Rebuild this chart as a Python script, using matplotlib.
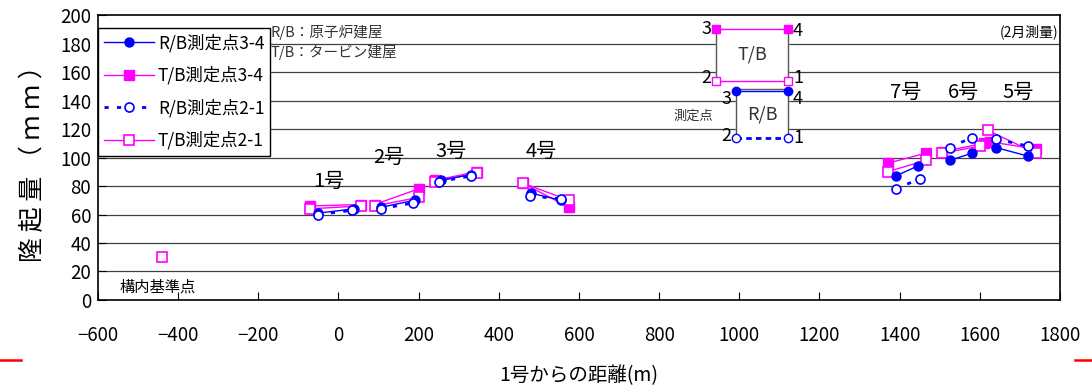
import numpy as np
import matplotlib
matplotlib.use("Agg")
import matplotlib.pyplot as plt
from matplotlib.lines import Line2D

plt.rcParams['font.family'] = ['Noto Sans CJK JP', 'DejaVu Sans']

nan = np.nan

# Distance from Unit 1 (m); each unit contributes a pair of points, NaN breaks the line
rb34_x = [-50, 40, nan, 105, 190, nan, 255, 330, nan, 480, 555, nan, 1390, 1445, nan, 1525, 1580, nan, 1640, 1720]
rb34_y = [61, 64, nan, 65, 70, nan, 84, 88, nan, 75, 70, nan, 87, 94, nan, 98, 103, nan, 107, 101]

tb34_x = [-70, 55, nan, 90, 200, nan, 240, 345, nan, 460, 575, nan, 1370, 1465, nan, 1505, 1610, nan, 1625, 1740]
tb34_y = [66, 67, nan, 67, 78, nan, 84, 90, nan, 82, 65, nan, 96, 103, nan, 104, 110, nan, 111, 106]

rb21_x = [-50, 35, nan, 105, 185, nan, 250, 330, nan, 478, 555, nan, 1390, 1450, nan, 1525, 1580, nan, 1640, 1720]
rb21_y = [60, 63, nan, 64, 68, nan, 83, 87, nan, 73, 71, nan, 78, 85, nan, 107, 114, nan, 113, 108]

tb21_x = [-440, nan, -70, 55, nan, 90, 200, nan, 240, 345, nan, 460, 575, nan, 1370, 1465, nan, 1505, 1600, nan, 1620, 1740]
tb21_y = [30, nan, 64, 66, nan, 66, 72, nan, 83, 89, nan, 82, 70, nan, 90, 98, nan, 103, 108, nan, 119, 103]

unit_labels = ['1号', '2号', '3号', '4号', '7号', '6号', '5号']
unit_label_x = [-25, 125, 280, 505, 1415, 1560, 1695]
unit_label_y = [83, 100, 104, 104, 146, 146, 146]

x_ticks = list(range(-600, 1801, 200))
y_ticks = list(range(0, 201, 20))

# Schematic of measurement points on each building
tb_box_x = [942, 1122]
tb_box_y = [154, 190]
rb_box_x = [992, 1122]
rb_box_y = [114, 147]

BLUE = '#0000FF'
MAG = '#FF00FF'

fig = plt.figure(figsize=(10.92, 3.89), dpi=100)
ax = fig.add_axes([0.0897, 0.2288, 0.881, 0.7326])
ax.set_xlim(-600, 1800)
ax.set_ylim(0, 200)
ax.set_xticks(x_ticks)
ax.set_yticks(y_ticks)
ax.tick_params(direction='in', length=6, width=0.8, labelsize=13.5)
ax.tick_params(axis='x', pad=18)
ax.tick_params(axis='y', pad=5)
for y in y_ticks[1:-1]:
    ax.axhline(y, color='#404040', lw=0.9, zorder=0)
for s in ax.spines.values():
    s.set_linewidth(1.2)

ms = 6.5
h1, = ax.plot(rb34_x, rb34_y, '-', color=BLUE, lw=1, marker='o', ms=ms,
              mfc=BLUE, mec=BLUE, label='R/B測定点3-4', zorder=4)
h2, = ax.plot(tb34_x, tb34_y, '-', color=MAG, lw=1, marker='s', ms=ms,
              mfc=MAG, mec=MAG, label='T/B測定点3-4', zorder=3)
h3, = ax.plot(rb21_x, rb21_y, linestyle=(0, (1.5, 3)), color=BLUE, lw=2, marker='o', ms=ms,
              mfc='white', mec=BLUE, mew=1.2, label='R/B測定点2-1', zorder=5)
h4, = ax.plot(tb21_x, tb21_y, '-', color=MAG, lw=1, marker='s', ms=ms,
              mfc='white', mec=MAG, mew=1.2, label='T/B測定点2-1', zorder=3)

leg = ax.legend(handles=[h1, h2, h3, h4], loc='upper left', bbox_to_anchor=(0.0, 0.955),
                fontsize=12.5, frameon=True, fancybox=False, edgecolor='black',
                framealpha=1, borderpad=0.35, labelspacing=0.8, handlelength=2.9,
                handletextpad=0.2, borderaxespad=0)
leg.get_frame().set_linewidth(1.0)

for t, x, y in zip(unit_labels, unit_label_x, unit_label_y):
    ax.text(x, y, t, fontsize=14.5, ha='center', va='center', zorder=6)

ax.text(-170, 188, 'R/B：原子炉建屋', fontsize=10.5, color='#333333', ha='left', va='center')
ax.text(-170, 174, 'T/B：タービン建屋', fontsize=10.5, color='#333333', ha='left', va='center')
ax.text(1722, 188, '(2月測量)', fontsize=10, ha='center', va='center')
ax.text(-450, 9, '構内基準点', fontsize=11, ha='center', va='center')

# Turbine building schematic
ax.fill_between(tb_box_x, tb_box_y[0], tb_box_y[1], color='white', zorder=6)
ax.plot([tb_box_x[0], tb_box_x[0]], tb_box_y, color='#555555', lw=1, zorder=7)
ax.plot([tb_box_x[1], tb_box_x[1]], tb_box_y, color='#555555', lw=1, zorder=7)
ax.plot(tb_box_x, [tb_box_y[1]] * 2, color=MAG, lw=1, marker='s', ms=6, mfc=MAG, mec=MAG, zorder=8)
ax.plot(tb_box_x, [tb_box_y[0]] * 2, color=MAG, lw=1, marker='s', ms=6, mfc='white', mec=MAG, zorder=8)
ax.text(np.mean(tb_box_x), np.mean(tb_box_y), 'T/B', fontsize=13, ha='center', va='center', color='#333333', zorder=9)
ax.text(tb_box_x[0] - 12, tb_box_y[1], '3', fontsize=13, ha='right', va='center', zorder=9)
ax.text(tb_box_x[1] + 12, tb_box_y[1] - 1, '4', fontsize=13, ha='left', va='center', zorder=9)
ax.text(tb_box_x[0] - 12, tb_box_y[0] + 2, '2', fontsize=13, ha='right', va='center', zorder=9)
ax.text(tb_box_x[1] + 12, tb_box_y[0] + 2, '1', fontsize=13, ha='left', va='center', zorder=9)

# Reactor building schematic
ax.fill_between(rb_box_x, rb_box_y[0], rb_box_y[1], color='white', zorder=6)
ax.plot([rb_box_x[0], rb_box_x[0]], rb_box_y, color='#555555', lw=1, zorder=7)
ax.plot([rb_box_x[1], rb_box_x[1]], rb_box_y, color='#555555', lw=1, zorder=7)
ax.plot(rb_box_x, [rb_box_y[1] + 1.2] * 2, color='#555555', lw=1, zorder=7)
ax.plot(rb_box_x, [rb_box_y[1]] * 2, color=BLUE, lw=1, marker='o', ms=6, mfc=BLUE, mec=BLUE, zorder=8)
ax.plot(rb_box_x, [rb_box_y[0]] * 2, color=BLUE, lw=2, linestyle=(0, (2, 1.5)), marker='o', ms=6,
        mfc='white', mec=BLUE, zorder=8)
ax.text(np.mean(rb_box_x), np.mean(rb_box_y), 'R/B', fontsize=13, ha='center', va='center', color='#333333', zorder=9)
ax.text(rb_box_x[0] - 12, rb_box_y[1] - 6, '3', fontsize=13, ha='right', va='center', zorder=9)
ax.text(rb_box_x[1] + 12, rb_box_y[1] - 6, '4', fontsize=13, ha='left', va='center', zorder=9)
ax.text(rb_box_x[0] - 12, rb_box_y[0] + 1, '2', fontsize=13, ha='right', va='center', zorder=9)
ax.text(rb_box_x[1] + 12, rb_box_y[0], '1', fontsize=13, ha='left', va='center', zorder=9)
ax.text(885, 129, '測定点', fontsize=9.5, ha='center', va='center', color='#333333', zorder=9)

ax.set_ylabel('隆 起 量 （ ｍ ｍ ）', fontsize=18, labelpad=10)
ax.set_xlabel('1号からの距離(m)', fontsize=14, labelpad=14)

# Page margin marks
fig.add_artist(Line2D([0.0, 0.019], [0.0745, 0.0745], color='red', lw=1.8))
fig.add_artist(Line2D([0.984, 1.0], [0.0745, 0.0745], color='red', lw=1.8))

fig.savefig('out.png', dpi=100)
